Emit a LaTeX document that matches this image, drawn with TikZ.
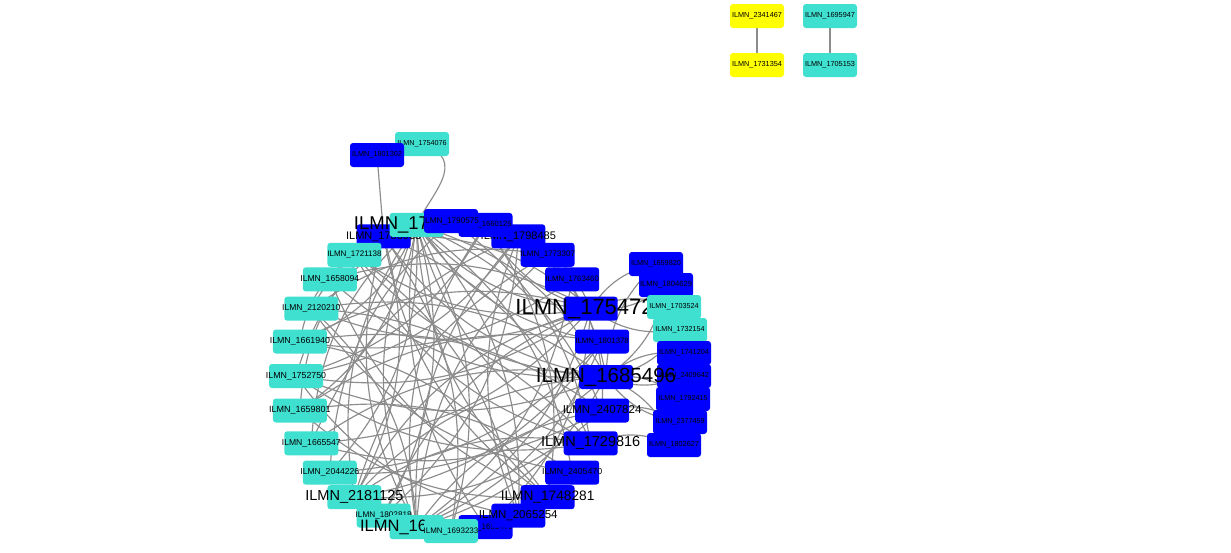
\documentclass[tikz,border=0pt]{standalone}
\usepackage{fontspec}
\setmainfont{Liberation Sans}
\pgfdeclarelayer{bgfill}
\pgfdeclarelayer{edges}
\pgfsetlayers{bgfill,edges,main}
\definecolor{nblue}{HTML}{0000FF}
\definecolor{ncyan}{HTML}{40E0D0}
\definecolor{nyellow}{HTML}{FFFF00}
\definecolor{egray}{HTML}{8C8C8C}
\newcommand\fsz[1]{\fontsize{#1}{#1}\selectfont}
\begin{document}
\begin{tikzpicture}[x=1pt,y=-1pt,
  gn/.style={rectangle, rounded corners=3pt, minimum width=54pt, minimum height=24pt, inner sep=0pt, draw=none, text=black},
  gb/.style={gn, fill=nblue},
  gc/.style={gn, fill=ncyan},
  gy/.style={gn, fill=nyellow},
  edge/.style={draw=egray, line width=1.15pt}]
\begin{pgfonlayer}{bgfill}
\fill[white] (0,0) rectangle (1231,552);
\end{pgfonlayer}
\useasboundingbox (0,0) rectangle (1231,552);

% top small components
\node[gc, font=\fsz{7.2}] (t2) at (422,144) {\makebox[0pt]{ILMN\_1754076}};
\node[gb, font=\fsz{7.3}] (t1) at (377,155) {\makebox[0pt]{ILMN\_1801302}};
\node[gy, font=\fsz{7.3}] (y1) at (757,16) {\makebox[0pt]{ILMN\_2341467}};
\node[gy, font=\fsz{7.3}] (y2) at (757,65) {\makebox[0pt]{ILMN\_1731354}};
\node[gc, font=\fsz{7.3}] (c1) at (830,16) {\makebox[0pt]{ILMN\_1695947}};
\node[gc, font=\fsz{7.3}] (c2) at (830,65) {\makebox[0pt]{ILMN\_1705153}};

% circle + right arc
\node[gb, font=\fsz{22}] (n2) at (590.7,308.7) {\makebox[0pt]{ILMN\_1754723}};
\node[gb, font=\fsz{7.3}] (r1) at (656,264) {\makebox[0pt]{ILMN\_1659820}};
\node[gb, font=\fsz{7.6}] (r2) at (666,285) {\makebox[0pt]{ILMN\_1804629}};
\node[gc, font=\fsz{7.2}] (r3) at (674,307) {\makebox[0pt]{ILMN\_1703524}};
\node[gc, font=\fsz{7.2}] (r4) at (680,330) {\makebox[0pt]{ILMN\_1732154}};
\node[gb, font=\fsz{7.3}] (r5) at (684,353) {\makebox[0pt]{ILMN\_1741204}};
\node[gb, font=\fsz{7.3}] (r6) at (684,376) {\makebox[0pt]{ILMN\_2409642}};
\node[gb, font=\fsz{7.2}] (r7) at (683,399) {\makebox[0pt]{ILMN\_1792415}};
\node[gb, font=\fsz{7.2}] (r8) at (680,422) {\makebox[0pt]{ILMN\_2377459}};
\node[gb, font=\fsz{7.3}] (r9) at (674,445) {\makebox[0pt]{ILMN\_1802627}};
\node[gb, font=\fsz{20.5}] (n0) at (606,377) {\makebox[0pt]{ILMN\_1685496}};
\node[gb, font=\fsz{7.8}] (n1) at (602.1,341.5) {\makebox[0pt]{ILMN\_1801378}};
\node[gb, font=\fsz{11}] (n9) at (383.7,236.3) {\makebox[0pt]{ILMN\_1788033}};
\node[gc, font=\fsz{18.5}] (n8) at (416.5,224.9) {\makebox[0pt]{ILMN\_1776311}};
\node[gb, font=\fsz{7.8}] (n3) at (572.2,279.4) {\makebox[0pt]{ILMN\_1763460}};
\node[gb, font=\fsz{8}] (n4) at (547.6,254.8) {\makebox[0pt]{ILMN\_1773307}};
\node[gb, font=\fsz{11}] (n5) at (518.3,236.3) {\makebox[0pt]{ILMN\_1798485}};
\node[gb, font=\fsz{7.6}] (n6) at (485.5,224.9) {\makebox[0pt]{ILMN\_1660125}};
\node[gb, font=\fsz{8.2}] (n7) at (451,221) {\makebox[0pt]{ILMN\_1790575}};
\node[gc, font=\fsz{8}] (n10) at (354.4,254.8) {\makebox[0pt]{ILMN\_1721138}};
\node[gc, font=\fsz{8.6}] (n11) at (329.8,279.4) {\makebox[0pt]{ILMN\_1658094}};
\node[gc, font=\fsz{8.5}] (n12) at (311.3,308.7) {\makebox[0pt]{ILMN\_2120210}};
\node[gc, font=\fsz{8.8}] (n13) at (299.9,341.5) {\makebox[0pt]{ILMN\_1661940}};
\node[gc, font=\fsz{8.8}] (n14) at (296,376) {\makebox[0pt]{ILMN\_1752750}};
\node[gc, font=\fsz{9}] (n15) at (299.9,410.5) {\makebox[0pt]{ILMN\_1659801}};
\node[gc, font=\fsz{8.6}] (n16) at (311.3,443.3) {\makebox[0pt]{ILMN\_1665547}};
\node[gc, font=\fsz{8.6}] (n17) at (329.8,472.6) {\makebox[0pt]{ILMN\_2044226}};
\node[gc, font=\fsz{14.5}] (n18) at (354.4,497.2) {\makebox[0pt]{ILMN\_2181125}};
\node[gc, font=\fsz{8.2}] (n19) at (383.7,515.7) {\makebox[0pt]{ILMN\_1802818}};
\node[gc, font=\fsz{16.5}] (n20) at (416.5,527.1) {\makebox[0pt]{ILMN\_1651229}};
\node[gb, font=\fsz{8}] (n22) at (485.5,527.1) {\makebox[0pt]{ILMN\_1692479}};
\node[gb, font=\fsz{11.5}] (n27) at (602.1,410.5) {\makebox[0pt]{ILMN\_2407824}};
\node[gb, font=\fsz{14.5}] (n26) at (590.7,443.3) {\makebox[0pt]{ILMN\_1729816}};
\node[gb, font=\fsz{8.8}] (n25) at (572.2,472.6) {\makebox[0pt]{ILMN\_2405470}};
\node[gb, font=\fsz{13.7}] (n24) at (547.6,497.2) {\makebox[0pt]{ILMN\_1748281}};
\node[gb, font=\fsz{11.5}] (n23) at (518.3,515.7) {\makebox[0pt]{ILMN\_2065254}};
\node[gc, font=\fsz{8}] (n21) at (451,531) {\makebox[0pt]{ILMN\_1693233}};

\begin{pgfonlayer}{edges}
\draw[edge] (y1) -- (y2);
\draw[edge] (c1) -- (c2);
\draw[edge] (t1.center) -- (n9.center);
\draw[edge] (t2.center) .. controls (470,160) and (430,195) .. (n8.center);
\foreach \a/\b in {n8/n0, n8/n13, n8/n15, n8/n17, n8/n19, n8/n21, n8/n23, n8/n25, n8/n27,
  n9/n2, n9/n18, n9/n21, n9/n26,
  n2/n10, n2/n12, n2/n14, n2/n16, n2/n20, n2/n6, n2/r1, n2/r3, n2/n22,
  n0/r5, n0/r7, n0/r9, n0/n11, n0/n14, n0/n17, n0/n20, n0/n10, n0/r1,
  n20/n5, n20/n6, n20/n27, n20/n4,
  n18/n4, n18/n26,
  n26/n10, n26/n14, n26/r9,
  n24/n11, n24/n15,
  n23/n14, n23/n5,
  n27/n16, n27/r8,
  n5/n14, n5/n19,
  n3/n13, n25/n12, n1/n17, n6/n14}
  \draw[edge] (\a.center) to[bend left=22] (\b.center);
\foreach \a/\b in {n8/n1, n8/n2, n8/n12, n8/n14, n8/n16, n8/n18, n8/n20, n8/n22, n8/n24, n8/n26,
  n9/n0, n9/n20, n9/n24, n9/n15,
  n2/n11, n2/n13, n2/n18, n2/n5, n2/r2, n2/r4, n2/n19,
  n0/r4, n0/r6, n0/r8, n0/n12, n0/n16, n0/n18, n0/n5, n0/r2,
  n20/n3, n20/n1, n20/n12,
  n18/n27, n18/n1,
  n26/n12, n26/n7,
  n24/n13, n24/n6,
  n23/n10,
  n27/n13, n27/n4,
  n5/n16,
  n7/n17, n25/n15, n1/n15, n4/n12, n10/n13}
  \draw[edge] (\a.center) to[bend right=22] (\b.center);
\end{pgfonlayer}
\end{tikzpicture}
\end{document}
